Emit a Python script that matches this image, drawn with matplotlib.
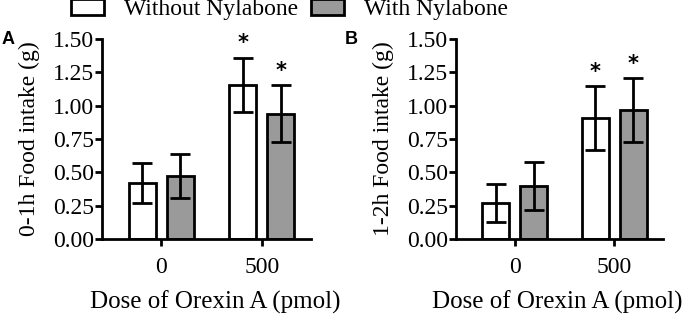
import matplotlib
matplotlib.use("Agg")
import matplotlib.pyplot as plt
from matplotlib.patches import Patch
import numpy as np

# Data
doses = ["0", "500"]
series = ["Without Nylabone", "With Nylabone"]
a_without = [0.42, 1.155]
a_without_sem = [0.15, 0.205]
a_with = [0.47, 0.94]
a_with_sem = [0.165, 0.215]
b_without = [0.27, 0.905]
b_without_sem = [0.14, 0.24]
b_with = [0.40, 0.965]
b_with_sem = [0.18, 0.24]
a_sig = [[False, True], [False, True]]
b_sig = [[False, True], [False, True]]
yticks = [0.00, 0.25, 0.50, 0.75, 1.00, 1.25, 1.50]

serif = ["Liberation Serif", "DejaVu Serif"]
plt.rcParams["font.family"] = serif

W, H = 686, 317
fig = plt.figure(figsize=(W / 100, H / 100), dpi=100)

colors = ["white", "#9a9a9a"]
lw = 2.0
bw = 0.27
offs = [-0.19, 0.19]


def panel(rect, vals, sems, sig, ylabel, letter, letter_x, xlab_x):
    ax = fig.add_axes(rect)
    x = np.arange(len(doses))
    for i, (v, s) in enumerate(zip(vals, sems)):
        ax.bar(x + offs[i], v, width=bw, color=colors[i], edgecolor="black",
               linewidth=lw, zorder=2)
        ax.errorbar(x + offs[i], v, yerr=s, fmt="none", ecolor="black",
                    elinewidth=lw, capsize=7, capthick=lw, zorder=3)
        for j in range(len(doses)):
            if sig[i][j]:
                ax.annotate("*", (x[j] + offs[i], v[j] + s[j]), xytext=(0, 3),
                            textcoords="offset points", ha="center", va="bottom",
                            fontsize=15, fontweight="bold", family="DejaVu Sans")
    ax.set_xlim(-0.59, 1.49)
    ax.set_ylim(0, 1.5)
    ax.set_yticks(yticks)
    ax.set_yticklabels([f"{t:.2f}" for t in yticks])
    ax.set_xticks(x)
    ax.set_xticklabels(doses)
    for sp in ["top", "right"]:
        ax.spines[sp].set_visible(False)
    for sp in ["left", "bottom"]:
        ax.spines[sp].set_linewidth(lw)
    ax.tick_params(axis="both", width=lw, length=5, labelsize=17, pad=1)
    ax.tick_params(axis="x", pad=8)
    ax.set_ylabel(ylabel, fontsize=17, labelpad=9)
    ax.set_xlabel("Dose of Orexin A (pmol)", fontsize=18)
    ax.xaxis.set_label_coords(xlab_x, -0.318, transform=ax.transAxes)
    ax.xaxis.label.set_va("center")
    fig.text(letter_x, 0.875, letter, fontsize=13, fontweight="bold",
             family="Liberation Sans", ha="left", va="center")
    return ax


panel([0.1487, 0.246, 0.3047, 0.631], [a_without, a_with],
      [a_without_sem, a_with_sem], a_sig, "0-1h Food intake (g)", "A", 0.002, 0.54)
panel([0.6647, 0.246, 0.302, 0.631], [b_without, b_with],
      [b_without_sem, b_with_sem], b_sig, "1-2h Food intake (g)", "B", 0.502, 0.49)

handles = [Patch(facecolor=c, edgecolor="black", linewidth=lw) for c in colors]
fig.legend(handles, series, loc="center", bbox_to_anchor=(0.422, 0.97), ncol=2,
           frameon=False, fontsize=17, handlelength=1.4, handleheight=0.7,
           columnspacing=0.55, handletextpad=0.85, borderpad=0)

fig.savefig("out.png", dpi=100)
